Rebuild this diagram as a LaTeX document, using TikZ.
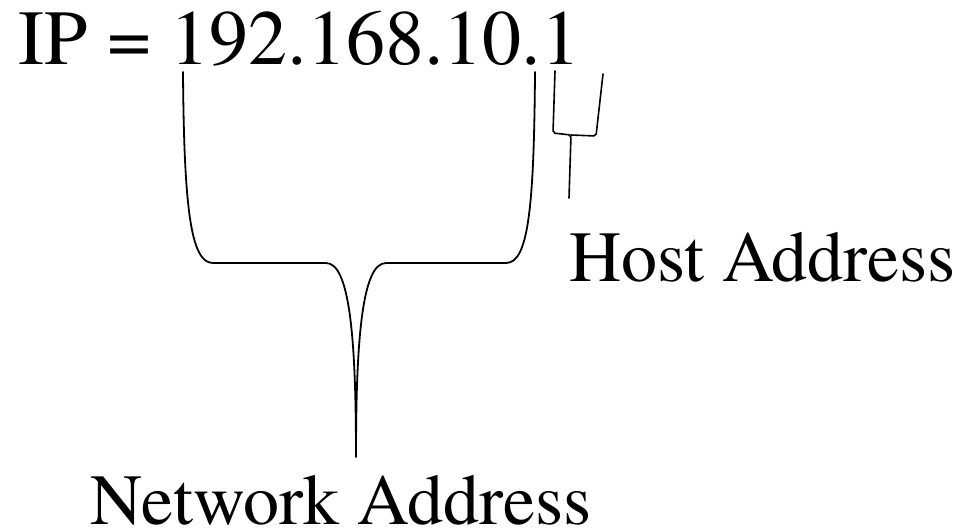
\documentclass[tikz,border=0pt]{standalone}
\usepackage{fontspec}
\setmainfont{TeX Gyre Termes}
\begin{document}
\begin{tikzpicture}[x=1pt,y=-1pt,
  lbl/.style={inner sep=0pt,outer sep=0pt,anchor=base,text=black},
  bigtxt/.style={lbl,font=\fontsize{78}{90}\selectfont},
  midtxt/.style={lbl,font=\fontsize{72}{84}\selectfont},
  bracepath/.style={draw=black,line width=1.8pt,line cap=round,line join=round}]
\useasboundingbox (0,0) rectangle (960,530);
\node[bigtxt] (ip) at (299.5,64) {IP = 192.168.10.1};
\node[midtxt] (host) at (762.5,281) {Host Address};
\node[midtxt] (net) at (341,524) {Network Address};
% big brace
\coordinate (bl) at (183,72);
\coordinate (br) at (535,72);
\coordinate (bt) at (356,457);
\draw[bracepath] (bl) .. controls (184,210) and (191,263) .. (213,263)
  -- (326,263) .. controls (350,263) and (356,340) .. (bt)
  .. controls (356,340) and (362,263) .. (386,263)
  -- (506,263) .. controls (528,263) and (534,210) .. (br);
% small brace
\coordinate (sl) at (555,71);
\coordinate (sr) at (603,74);
\coordinate (st) at (569,198);
\draw[bracepath,line width=1.6pt,rounded corners=2pt] (sl) -- (553,133) -- (571,135)
  -- (st);
\draw[bracepath,line width=1.6pt,rounded corners=2pt] (571,135) -- (596,136) -- (sr);
\end{tikzpicture}
\end{document}
